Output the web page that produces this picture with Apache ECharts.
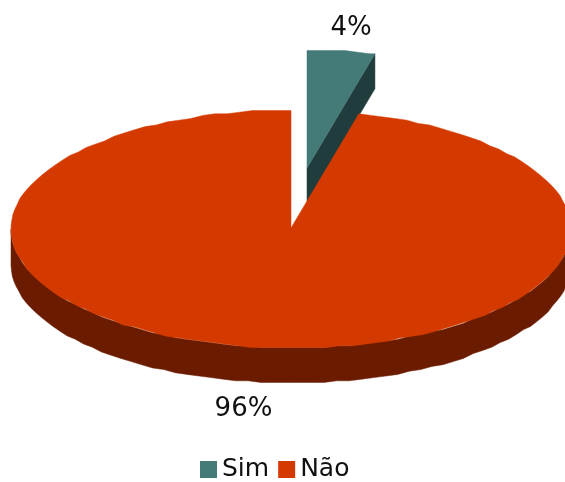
<!DOCTYPE html>
<html>
<head>
<meta charset="utf-8">
<style>html,body{margin:0;padding:0;background:#fff}#c{width:565px;height:482px}</style>
<script src="https://cdn.jsdelivr.net/npm/echarts@6/dist/echarts.min.js"></script>
</head>
<body>
<div id="c"></div>
<script>
var categories = ['Sim', 'Não'];
var seriesValues = [3.9, 96.1];
var faceColors = ['#447a78', '#d43a00'];
var wallColors = ['#213c3c', '#6b1c00'];

var geo = {cx: 291, cy: 229, rx: 280, ry: 119, depth: 35, grid: 1.6, step: 2.6};
var explode = [{dx: 16, dy: -60}, {dx: 0, dy: 0}];
var labelPos = [{x: 351, y: 28}, {x: 243.5, y: 409}];
var total = seriesValues.reduce(function (a, b) { return a + b; }, 0);

function pt(deg, ox, oy) {
  var r = deg * Math.PI / 180;
  var yy = geo.ry * Math.cos(r);
  return [geo.cx + ox + geo.rx * Math.sin(r),
          geo.cy + oy - Math.round(yy / geo.grid) * geo.grid];
}
function arc(a, b, ox, oy) {
  var out = [], d = a;
  while (d < b) { out.push(pt(d, ox, oy)); d += geo.step; }
  out.push(pt(b, ox, oy));
  return out;
}
function renderSlice(i) {
  return function (params, api) {
    var value = api.value(0);
    var before = seriesValues.slice(0, i).reduce(function (a, b) { return a + b; }, 0);
    var a0 = before / total * 360, a1 = (before + value) / total * 360;
    var e = explode[i], kids = [];
    var apex = [geo.cx + e.dx, geo.cy - 1 + e.dy];
    var wallStyle = {fill: wallColors[i], stroke: wallColors[i], lineWidth: 0.5};
    // outer wall on the front half
    var w0 = Math.max(a0, 90), w1 = Math.min(a1, 270);
    if (w1 > w0) {
      var top = arc(w0, w1, e.dx, e.dy);
      var bot = top.map(function (p) { return [p[0], p[1] + geo.depth]; }).reverse();
      kids.push({type: 'polygon', shape: {points: top.concat(bot)}, style: wallStyle});
    }
    // cut wall facing the viewer
    if (a1 < 90) {
      var o = pt(a1, e.dx, e.dy);
      kids.push({type: 'polygon', shape: {points: [apex, o, [o[0], o[1] + geo.depth], [apex[0], apex[1] + geo.depth]]}, style: wallStyle});
    }
    kids.push({type: 'polygon', shape: {points: [apex].concat(arc(a0, a1, e.dx, e.dy))},
      style: {fill: faceColors[i], stroke: faceColors[i], lineWidth: 0.5}});
    kids.push({type: 'text', style: {
      x: labelPos[i].x, y: labelPos[i].y, text: Math.round(value / total * 100) + '%',
      fill: '#111', font: '26px "DejaVu Sans"', align: 'center', verticalAlign: 'middle'}});
    return {type: 'group', children: kids};
  };
}

var chart = echarts.init(document.getElementById('c'), null, {renderer: 'canvas'});
chart.setOption({
  animation: false,
  backgroundColor: '#fff',
  legend: {
    data: categories, left: 200, top: 457, icon: 'rect', itemWidth: 17, itemHeight: 17,
    itemGap: 9, padding: 0,
    textStyle: {fontFamily: 'DejaVu Sans', fontSize: 25, color: '#111'}
  },
  series: categories.map(function (name, i) {
    return {
      type: 'custom', name: name, coordinateSystem: 'none', silent: true,
      itemStyle: {color: faceColors[i]},
      data: [[seriesValues[i]]],
      renderItem: renderSlice(i)
    };
  })
});
</script>
</body>
</html>
